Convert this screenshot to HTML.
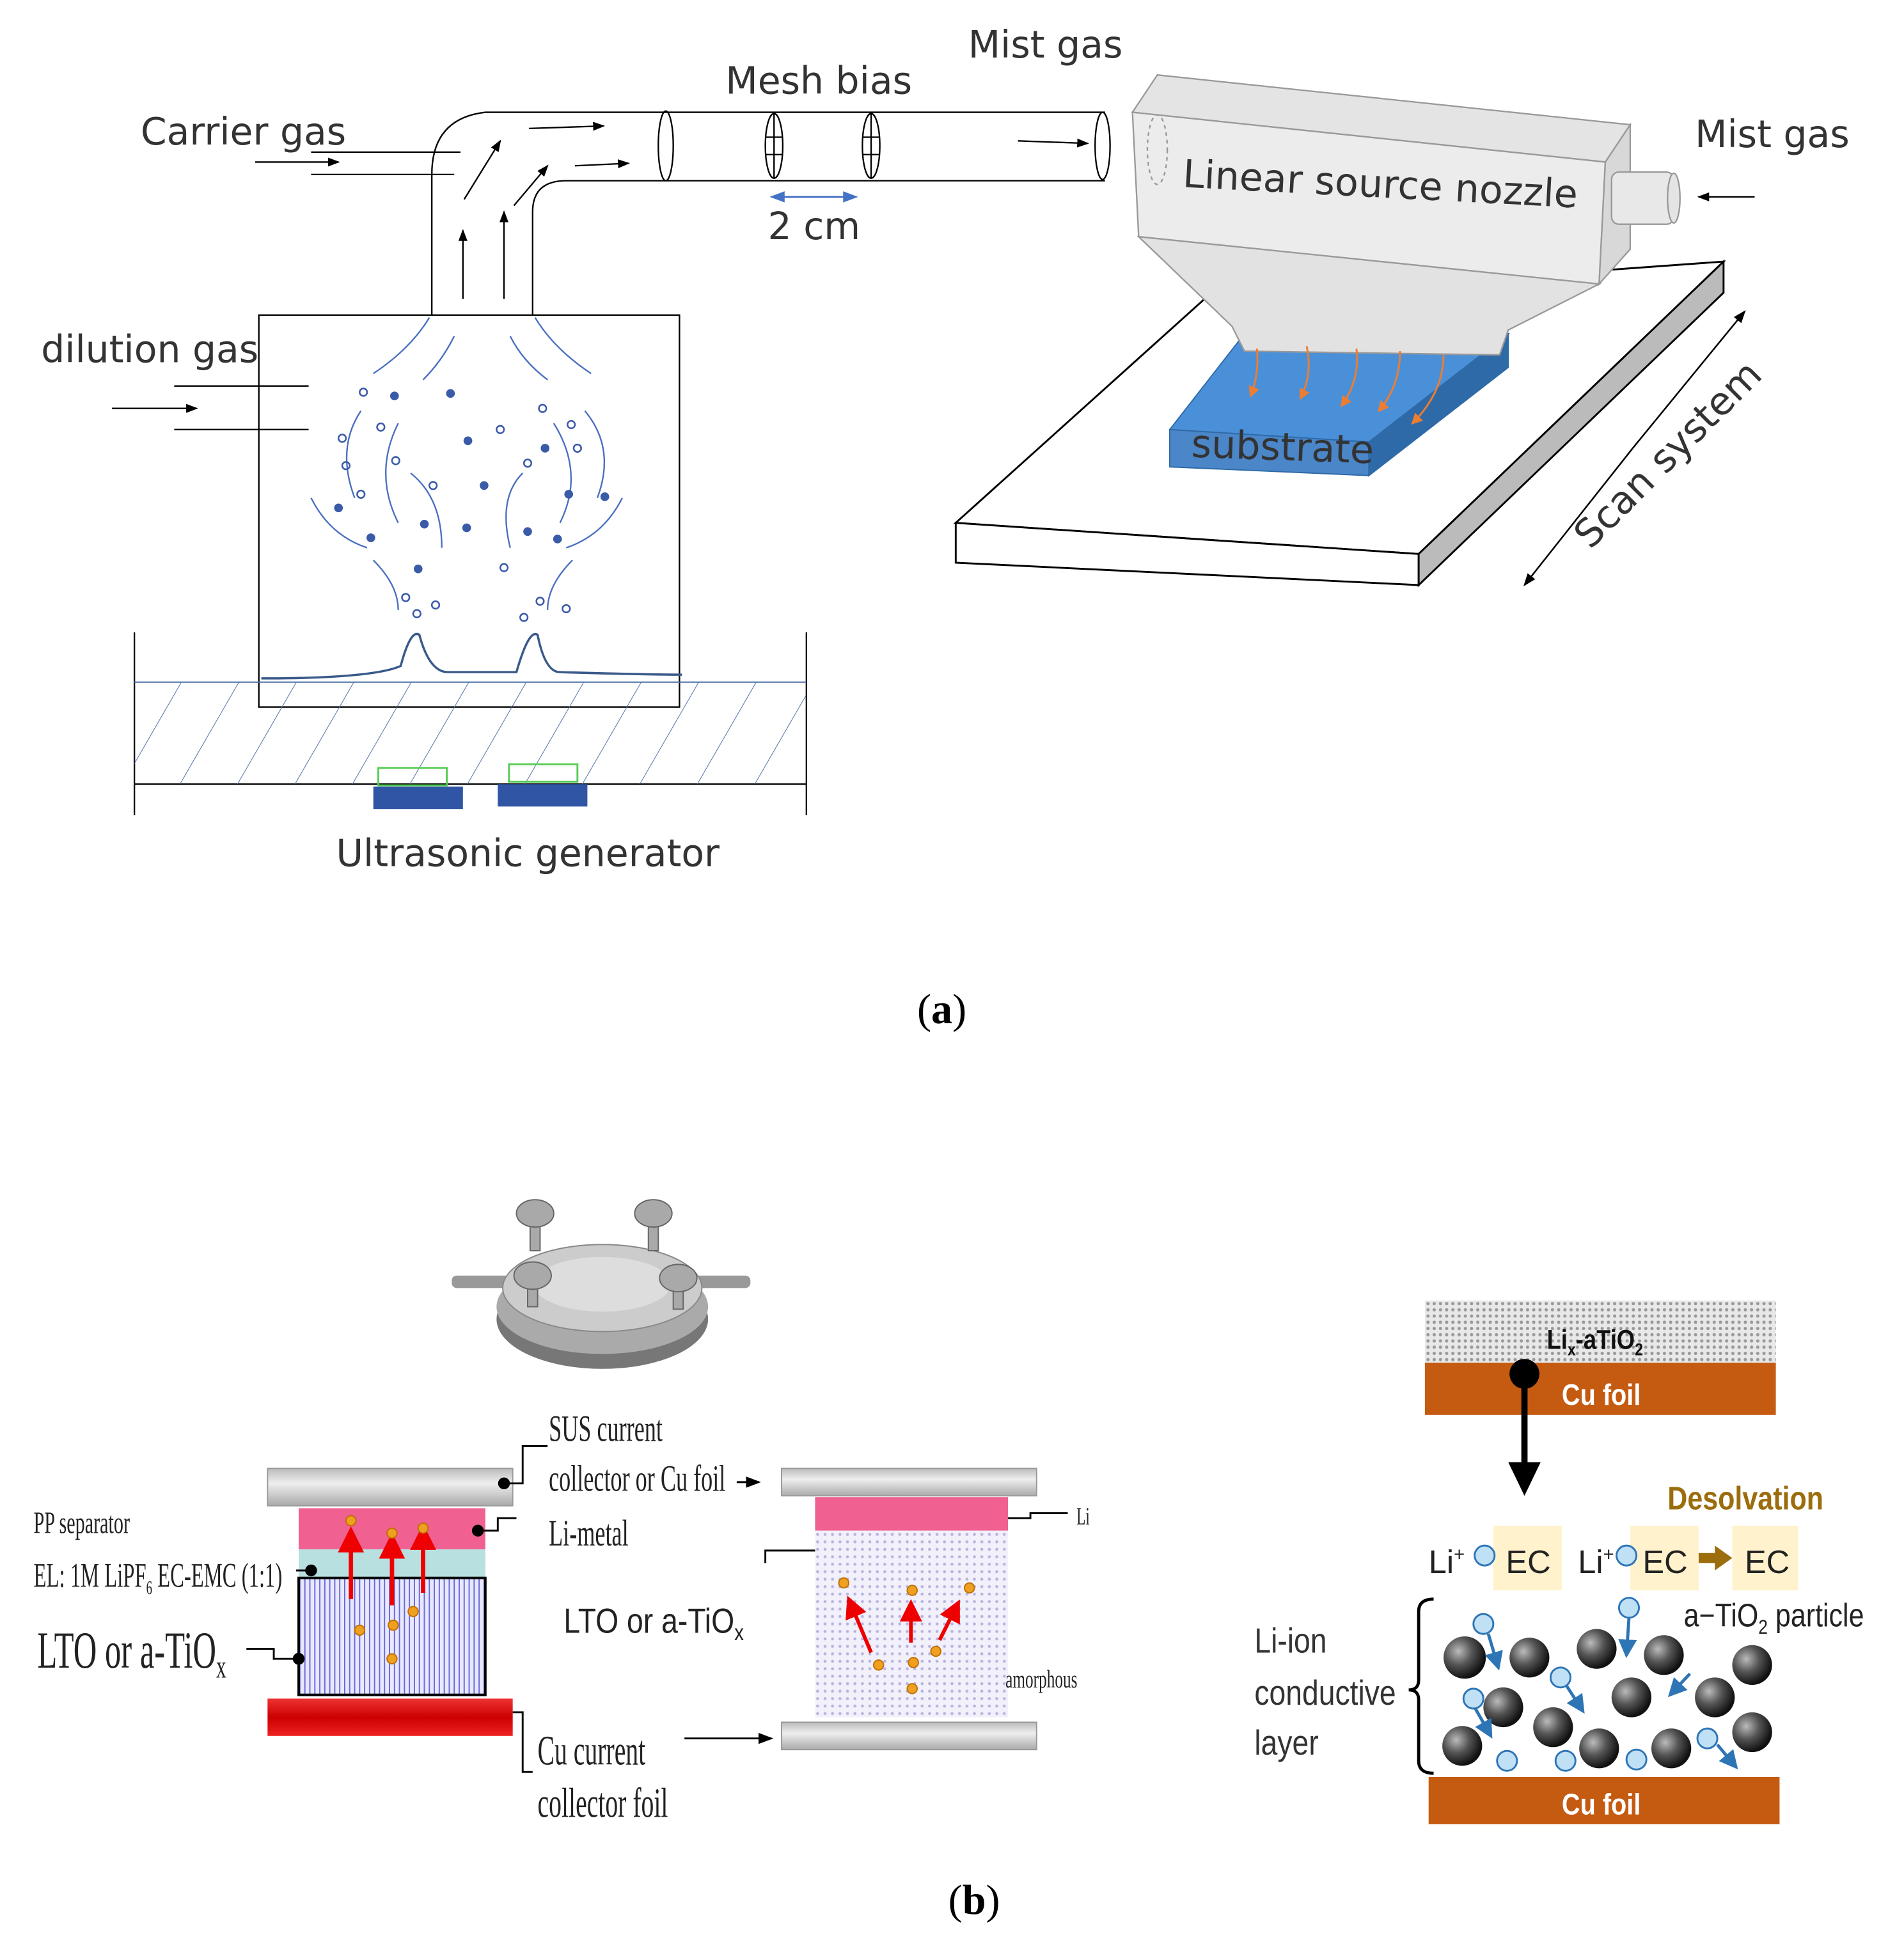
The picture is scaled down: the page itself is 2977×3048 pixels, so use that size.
<!DOCTYPE html>
<html><head><meta charset="utf-8"><style>
html,body{margin:0;padding:0;background:#fff;}
svg{display:block;}
</style></head><body>
<svg width="2977" height="3048" viewBox="0 0 1530 1566" xmlns="http://www.w3.org/2000/svg" font-family="DejaVu Sans, Liberation Sans, sans-serif">
<defs>
<marker id="ah" markerWidth="8" markerHeight="8" refX="7" refY="4" orient="auto"><path d="M0,1 L8,4 L0,7 z" fill="#000"/></marker>
<marker id="bh" markerWidth="8" markerHeight="8" refX="7" refY="4" orient="auto"><path d="M0,1 L8,4 L0,7 z" fill="#4472c4"/></marker>
<marker id="rh" markerWidth="6" markerHeight="6" refX="5" refY="3" orient="auto"><path d="M0,0 L6,3 L0,6 z" fill="#e00"/></marker>
<marker id="oh" markerWidth="6" markerHeight="6" refX="5" refY="3" orient="auto"><path d="M0,0 L6,3 L0,6 z" fill="#ed7d31"/></marker>
<marker id="lb" markerWidth="6" markerHeight="6" refX="5" refY="3" orient="auto"><path d="M0,0 L6,3 L0,6 z" fill="#2e75b6"/></marker>
<pattern id="hatch" width="40" height="40" patternUnits="userSpaceOnUse" patternTransform="rotate(30)"><line x1="0" y1="0" x2="0" y2="40" stroke="#4a6fa5" stroke-width="1"/></pattern>
<pattern id="vs" width="4" height="10" patternUnits="userSpaceOnUse"><rect width="4" height="10" fill="#e8e8ff"/><line x1="1" y1="0" x2="1" y2="10" stroke="#6b6bd8" stroke-width="1"/></pattern>
<pattern id="dots" width="6" height="6" patternUnits="userSpaceOnUse"><rect width="6" height="6" fill="#f2f0fb"/><circle cx="3" cy="3" r="1.2" fill="#b8b4e0"/></pattern>
<pattern id="gdots" width="5" height="5" patternUnits="userSpaceOnUse"><rect width="5" height="5" fill="#e8e8e8"/><circle cx="2.5" cy="2.5" r="1.3" fill="#999"/></pattern>
<radialGradient id="sph" cx="35%" cy="35%" r="65%"><stop offset="0" stop-color="#bbb"/><stop offset="0.5" stop-color="#555"/><stop offset="1" stop-color="#111"/></radialGradient>
<linearGradient id="gbar" x1="0" y1="0" x2="0" y2="1"><stop offset="0" stop-color="#bbb"/><stop offset="0.4" stop-color="#eee"/><stop offset="1" stop-color="#aaa"/></linearGradient>
<linearGradient id="rbar" x1="0" y1="0" x2="0" y2="1"><stop offset="0" stop-color="#e33"/><stop offset="0.5" stop-color="#c00"/><stop offset="1" stop-color="#e22"/></linearGradient>
</defs>

<!-- ===== (a) ===== -->
<g stroke="#000" fill="none" stroke-width="1.2">
<rect x="208" y="253" width="338" height="315"/>
<path d="M347,253 V140 Q347,95 390,90 H535"/>
<path d="M428,253 V170 Q428,145 455,145 H535"/>
<path d="M535,90 H888 M535,145 H888"/>
<path d="M250,122 H370 M250,140 H365"/>
<path d="M140,310 H248 M140,345 H248"/>
<path d="M108,508 V655 M648,508 V655 M108,630 H648"/>
</g>
<rect x="108" y="548" width="540" height="82" fill="url(#hatch)"/>
<line x1="108" y1="548" x2="648" y2="548" stroke="#4a6fa5"/>
<path d="M210,545 Q300,545 322,535 Q330,505 337,510 Q345,540 360,540 L415,540 Q425,505 432,510 Q438,540 450,540 Q520,542 548,542" stroke="#3a5a8a" stroke-width="1.8" fill="none"/>
<rect x="300" y="632" width="72" height="18" fill="#2f55a4"/>
<rect x="304" y="617" width="55" height="14" fill="none" stroke="#5c5" stroke-width="1.5"/>
<rect x="400" y="630" width="72" height="18" fill="#2f55a4"/>
<rect x="409" y="614" width="55" height="14" fill="none" stroke="#5c5" stroke-width="1.5"/>
<g stroke="#000" stroke-width="1.2" marker-end="url(#ah)">
<line x1="205" y1="130" x2="272" y2="130"/>
<line x1="90" y1="328" x2="158" y2="328"/>
<line x1="372" y1="240" x2="372" y2="185"/>
<line x1="405" y1="240" x2="405" y2="170"/>
<line x1="373" y1="160" x2="402" y2="113"/>
<line x1="413" y1="165" x2="440" y2="133"/>
<line x1="425" y1="103" x2="485" y2="101"/>
<line x1="462" y1="133" x2="505" y2="131"/>
<line x1="818" y1="113" x2="874" y2="115"/>
<line x1="1410" y1="158" x2="1365" y2="158"/>
</g>
<g stroke="#000" fill="none" stroke-width="1.2">
<ellipse cx="535" cy="117" rx="6" ry="28"/>
<ellipse cx="622" cy="117" rx="7" ry="26"/><line x1="622" y1="91" x2="622" y2="143"/><line x1="615" y1="110" x2="629" y2="110"/><line x1="615" y1="124" x2="629" y2="124"/>
<ellipse cx="700" cy="117" rx="7" ry="26"/><line x1="700" y1="91" x2="700" y2="143"/><line x1="693" y1="110" x2="707" y2="110"/><line x1="693" y1="124" x2="707" y2="124"/>
<ellipse cx="886" cy="117" rx="6" ry="27"/>
</g>
<line x1="620" y1="158" x2="688" y2="158" stroke="#4472c4" stroke-width="1.5" marker-end="url(#bh)"/>
<line x1="688" y1="158" x2="620" y2="158" stroke="#4472c4" stroke-width="1.5" marker-end="url(#bh)"/>
<g fill="none" stroke="#4a6fc0" stroke-width="1.2">
<path d="M345,255 Q330,280 300,300"/><path d="M430,255 Q445,280 475,300"/>
<path d="M365,270 Q355,290 340,305"/><path d="M410,270 Q420,290 440,305"/>
<path d="M290,330 Q270,360 285,400"/><path d="M470,330 Q495,360 480,400"/>
<path d="M320,340 Q300,380 320,420"/><path d="M445,340 Q470,380 450,420"/>
<path d="M250,400 Q265,430 295,440"/><path d="M500,400 Q485,430 455,440"/>
<path d="M330,380 Q355,400 355,440"/><path d="M420,380 Q400,400 410,440"/>
<path d="M300,450 Q320,470 320,490"/><path d="M460,450 Q440,470 440,490"/>
</g>
<g fill="#3a5ba8">
<circle cx="317" cy="318" r="3.5"/><circle cx="362" cy="316" r="3.5"/><circle cx="376" cy="354" r="3.5"/><circle cx="272" cy="408" r="3.5"/><circle cx="298" cy="432" r="3.5"/><circle cx="341" cy="421" r="3.5"/><circle cx="375" cy="424" r="3.5"/><circle cx="336" cy="457" r="3.5"/><circle cx="389" cy="390" r="3.5"/><circle cx="448" cy="433" r="3.5"/><circle cx="486" cy="399" r="3.5"/><circle cx="457" cy="397" r="3.5"/><circle cx="438" cy="360" r="3.5"/><circle cx="424" cy="427" r="3.5"/>
</g>
<g fill="none" stroke="#3a5ba8" stroke-width="1.3">
<circle cx="292" cy="315" r="3"/><circle cx="275" cy="352" r="3"/><circle cx="306" cy="343" r="3"/><circle cx="278" cy="374" r="3"/><circle cx="318" cy="370" r="3"/><circle cx="290" cy="397" r="3"/><circle cx="348" cy="390" r="3"/><circle cx="402" cy="345" r="3"/><circle cx="436" cy="328" r="3"/><circle cx="459" cy="341" r="3"/><circle cx="464" cy="360" r="3"/><circle cx="424" cy="372" r="3"/><circle cx="405" cy="456" r="3"/><circle cx="326" cy="480" r="3"/><circle cx="335" cy="493" r="3"/><circle cx="350" cy="486" r="3"/><circle cx="421" cy="496" r="3"/><circle cx="434" cy="483" r="3"/><circle cx="455" cy="489" r="3"/>
</g>
<g stroke="#000" stroke-width="1.5">
<polygon points="768,420 968,240 1385,210 1140,445" fill="#fff"/>
<polygon points="768,420 1140,445 1140,470 768,452" fill="#fff"/>
<polygon points="1140,445 1385,210 1385,235 1140,470" fill="#bbb"/>
</g>
<polygon points="940,345 1000,268 1212,268 1100,355" fill="#4a90d9" stroke="#2e6aa8"/>
<polygon points="940,345 1100,355 1100,382 940,375" fill="#4a86c8" stroke="#2e6aa8"/>
<polygon points="1100,355 1212,268 1212,295 1100,382" fill="#2e6aa8" stroke="#2e6aa8"/>
<g stroke="#999" stroke-width="1.2" fill="#e4e4e4">
<polygon points="930,60 1310,100 1290,130 910,90"/>
<polygon points="910,90 1290,130 1285,228 915,190" fill="#ececec"/>
<polygon points="1290,130 1310,100 1310,200 1285,228" fill="#d8d8d8"/>
<polygon points="915,190 1285,228 1212,265 1205,285 1000,282 990,262" fill="#e2e2e2"/>
<rect x="1295" y="138" width="50" height="42" rx="6" fill="#e8e8e8"/>
<ellipse cx="1345" cy="159" rx="5" ry="20"/>
<ellipse cx="930" cy="120" rx="8" ry="28" fill="none" stroke-dasharray="3,3"/>
</g>
<g stroke="#ed7d31" stroke-width="1.5" fill="none" marker-end="url(#oh)">
<path d="M1010,280 Q1012,300 1005,318"/><path d="M1050,278 Q1055,300 1045,320"/><path d="M1090,280 Q1093,305 1078,326"/><path d="M1125,282 Q1125,310 1108,330"/><path d="M1160,285 Q1160,315 1135,340"/>
</g>
<g stroke="#000" stroke-width="1.3" marker-end="url(#ah)"><line x1="1312" y1="360" x2="1402" y2="250"/><line x1="1312" y1="360" x2="1225" y2="470"/></g>
<g font-size="30" fill="#333">
<text x="113" y="116">Carrier gas</text>
<text x="33" y="291">dilution gas</text>
<text x="583" y="75">Mesh bias</text>
<text x="778" y="46">Mist gas</text>
<text x="1362" y="118">Mist gas</text>
<text x="617" y="192">2 cm</text>
<text x="270" y="696">Ultrasonic generator</text>
<text x="950" y="150" transform="rotate(3 950 150)" font-size="31">Linear source nozzle</text>
<text x="957" y="367" transform="rotate(2 957 367)" font-size="31">substrate</text>
<text x="1278" y="442" transform="rotate(-45 1278 442)" font-size="31">Scan system</text>
</g>
<text x="737" y="822" font-family="Liberation Serif, serif" font-size="34">(<tspan font-weight="bold">a</tspan>)</text>

<!-- ===== (b) ===== -->
<g>
<rect x="363" y="1025" width="240" height="10" rx="4" fill="#999"/>
<ellipse cx="484" cy="1060" rx="85" ry="40" fill="#777"/>
<ellipse cx="484" cy="1050" rx="85" ry="38" fill="#aaa"/>
<ellipse cx="484" cy="1035" rx="80" ry="35" fill="#ccc" stroke="#888"/>
<ellipse cx="484" cy="1032" rx="55" ry="22" fill="#ddd"/>
<g fill="#a9a9a9" stroke="#666">
<rect x="426" y="975" width="8" height="30"/><rect x="521" y="975" width="8" height="30"/><rect x="424" y="1025" width="8" height="25"/><rect x="541" y="1027" width="8" height="25"/>
<ellipse cx="430" cy="975" rx="15" ry="11"/><ellipse cx="525" cy="975" rx="15" ry="11"/><ellipse cx="428" cy="1025" rx="15" ry="11"/><ellipse cx="545" cy="1027" rx="15" ry="11"/></g>
</g>
<rect x="215" y="1180" width="197" height="30" fill="url(#gbar)" stroke="#999"/>
<rect x="240" y="1212" width="150" height="33" fill="#f06090"/>
<rect x="240" y="1245" width="150" height="23" fill="#b8e0e0"/>
<rect x="240" y="1268" width="150" height="94" fill="url(#vs)" stroke="#000" stroke-width="2"/>
<rect x="215" y="1365" width="197" height="30" fill="url(#rbar)"/>
<g stroke="#e00" stroke-width="3.5" marker-end="url(#rh)"><line x1="282" y1="1285" x2="282" y2="1230"/><line x1="315" y1="1290" x2="315" y2="1235"/><line x1="340" y1="1280" x2="340" y2="1228"/></g>
<g fill="#f0a020" stroke="#c07000"><circle cx="282" cy="1222" r="4"/><circle cx="315" cy="1232" r="4"/><circle cx="340" cy="1228" r="4"/><circle cx="289" cy="1310" r="4"/><circle cx="316" cy="1306" r="4"/><circle cx="332" cy="1295" r="4"/><circle cx="315" cy="1333" r="4"/></g>
<g stroke="#000" stroke-width="1.5" fill="none">
<path d="M405,1192 H420 V1162 H440"/><circle cx="405" cy="1192" r="4" fill="#000"/>
<path d="M384,1230 H400 V1220 H415"/><circle cx="384" cy="1230" r="4" fill="#000"/>
<path d="M248,1262 H238"/><circle cx="250" cy="1262" r="4" fill="#000"/>
<path d="M240,1333 H220 V1325 H198"/><circle cx="240" cy="1333" r="4" fill="#000"/>
<path d="M412,1376 H420 V1424 H428"/>
<path d="M800,1220 H828 V1216 H858"/><circle cx="800" cy="1220" r="4" fill="#000"/>
<path d="M662,1246 H615 V1256"/><circle cx="662" cy="1246" r="3.5" fill="#000"/>
<path d="M592,1191 H610" marker-end="url(#ah)"/>
<path d="M550,1397 H620" marker-end="url(#ah)"/>
</g>
<rect x="628" y="1180" width="205" height="22" fill="url(#gbar)" stroke="#999"/>
<rect x="655" y="1203" width="155" height="27" fill="#f06090"/>
<rect x="655" y="1230" width="155" height="150" fill="url(#dots)"/>
<rect x="628" y="1384" width="205" height="22" fill="url(#gbar)" stroke="#999"/>
<g stroke="#e00" stroke-width="3" marker-end="url(#rh)"><line x1="700" y1="1328" x2="682" y2="1285"/><line x1="732" y1="1320" x2="732" y2="1288"/><line x1="755" y1="1318" x2="770" y2="1288"/></g>
<g fill="#f0a020" stroke="#c07000"><circle cx="678" cy="1272" r="4"/><circle cx="733" cy="1278" r="4"/><circle cx="779" cy="1276" r="4"/><circle cx="706" cy="1338" r="4"/><circle cx="734" cy="1336" r="4"/><circle cx="752" cy="1327" r="4"/><circle cx="733" cy="1357" r="4"/></g>
<g font-family="Liberation Serif, serif" fill="#222">
<text x="441" y="1158" font-size="30" transform="translate(441 0) scale(0.62 1) translate(-441 0)">SUS current</text>
<text x="441" y="1198" font-size="30" transform="translate(441 0) scale(0.62 1) translate(-441 0)">collector or Cu foil</text>
<text x="441" y="1242" font-size="30" transform="translate(441 0) scale(0.62 1) translate(-441 0)">Li-metal</text>
<text x="27" y="1232" font-size="25" transform="translate(27 0) scale(0.62 1) translate(-27 0)">PP separator</text>
<text x="27" y="1275" font-size="28" transform="translate(27 0) scale(0.6 1) translate(-27 0)">EL: 1M LiPF<tspan font-size="16" dy="6">6</tspan><tspan dy="-6"> EC-EMC (1:1)</tspan></text>
<text x="30" y="1340" font-size="42" transform="translate(30 0) scale(0.62 1) translate(-30 0)">LTO or a-TiO<tspan font-size="26" dy="8">x</tspan></text>
<text x="432" y="1418" font-size="34" transform="translate(432 0) scale(0.6 1) translate(-432 0)">Cu current</text>
<text x="432" y="1460" font-size="34" transform="translate(432 0) scale(0.6 1) translate(-432 0)">collector foil</text>
<text x="865" y="1225" font-size="20" transform="translate(865 0) scale(0.6 1) translate(-865 0)">Li</text>
<text x="808" y="1356" font-size="20" transform="translate(808 0) scale(0.65 1) translate(-808 0)">amorphous</text>
</g>
<text x="453" y="1312" font-size="28" fill="#222" font-family="Liberation Sans, sans-serif" transform="translate(453 0) scale(0.85 1) translate(-453 0)">LTO or a-TiO<tspan font-size="18" dy="6">x</tspan></text>

<rect x="1145" y="1045" width="282" height="50" fill="url(#gdots)"/>
<rect x="1145" y="1095" width="282" height="42" fill="#c55a11"/>
<text x="1243" y="1084" font-size="22" font-weight="bold" fill="#111" font-family="Liberation Sans, sans-serif" transform="translate(1243 0) scale(0.85 1) translate(-1243 0)">Li<tspan font-size="14" dy="5">x</tspan><tspan dy="-5">-aTiO</tspan><tspan font-size="14" dy="5">2</tspan></text>
<text x="1255" y="1129" font-size="24" font-weight="bold" fill="#fff" font-family="Liberation Sans, sans-serif" transform="translate(1255 0) scale(0.85 1) translate(-1255 0)">Cu foil</text>
<circle cx="1225" cy="1104" r="12" fill="#000"/>
<line x1="1225" y1="1110" x2="1225" y2="1178" stroke="#000" stroke-width="5"/>
<polygon points="1212,1175 1238,1175 1225,1202" fill="#000"/>
<text x="1340" y="1213" font-size="26" font-weight="bold" fill="#9c6d0d" font-family="Liberation Sans, sans-serif" transform="translate(1340 0) scale(0.85 1) translate(-1340 0)">Desolvation</text>
<g fill="#fff2cc"><rect x="1200" y="1226" width="55" height="52"/><rect x="1310" y="1226" width="55" height="52"/><rect x="1392" y="1226" width="53" height="52"/></g>
<g font-family="Liberation Sans, sans-serif" font-size="26" fill="#222">
<text x="1210" y="1264">EC</text><text x="1320" y="1264">EC</text><text x="1402" y="1264">EC</text>
<text x="1148" y="1264">Li<tspan font-size="15" dy="-10">+</tspan></text>
<text x="1268" y="1264">Li<tspan font-size="15" dy="-10">+</tspan></text>
</g>
<polygon points="1365,1248 1378,1248 1378,1242 1392,1252 1378,1262 1378,1256 1365,1256" fill="#9c6d0d"/>
<g fill="#bfe0f5" stroke="#2e75b6" stroke-width="1.5"><circle cx="1193" cy="1250" r="8"/><circle cx="1307" cy="1250" r="8"/></g>
<path d="M1152,1285 Q1140,1285 1140,1295 V1350 Q1140,1358 1132,1358 Q1140,1358 1140,1366 V1415 Q1140,1425 1152,1425" fill="none" stroke="#000" stroke-width="2.5"/>
<g font-family="Liberation Sans, sans-serif" font-size="28" fill="#333" transform="translate(1008 0) scale(0.85 1) translate(-1008 0)">
<text x="1008" y="1328">Li-ion</text><text x="1008" y="1370">conductive</text><text x="1008" y="1410">layer</text>
</g>
<text x="1353" y="1307" font-family="Liberation Sans, sans-serif" font-size="26" fill="#222" transform="translate(1353 0) scale(0.85 1) translate(-1353 0)">a−TiO<tspan font-size="16" dy="6">2</tspan><tspan dy="-6"> particle</tspan></text>
<g fill="url(#sph)">
<circle cx="1177" cy="1332" r="17"/><circle cx="1229" cy="1332" r="16"/><circle cx="1283" cy="1325" r="16"/><circle cx="1337" cy="1330" r="16"/><circle cx="1408" cy="1338" r="16"/>
<circle cx="1208" cy="1372" r="16"/><circle cx="1311" cy="1364" r="16"/><circle cx="1378" cy="1364" r="16"/><circle cx="1248" cy="1388" r="16"/>
<circle cx="1175" cy="1403" r="16"/><circle cx="1285" cy="1405" r="16"/><circle cx="1343" cy="1405" r="16"/><circle cx="1408" cy="1392" r="16"/>
</g>
<g stroke="#2e75b6" stroke-width="2.5" marker-end="url(#lb)"><line x1="1196" y1="1313" x2="1204" y2="1340"/><line x1="1309" y1="1300" x2="1307" y2="1330"/><line x1="1185" y1="1372" x2="1198" y2="1395"/><line x1="1259" y1="1355" x2="1272" y2="1375"/><line x1="1358" y1="1345" x2="1342" y2="1362"/><line x1="1380" y1="1402" x2="1395" y2="1420"/></g>
<g fill="#bfe0f5" stroke="#2e75b6" stroke-width="1.5"><circle cx="1192" cy="1305" r="8"/><circle cx="1309" cy="1292" r="8"/><circle cx="1184" cy="1365" r="8"/><circle cx="1254" cy="1348" r="8"/><circle cx="1211" cy="1415" r="8"/><circle cx="1258" cy="1415" r="8"/><circle cx="1315" cy="1414" r="8"/><circle cx="1372" cy="1397" r="8"/></g>
<rect x="1148" y="1428" width="282" height="38" fill="#c55a11"/>
<text x="1255" y="1458" font-size="24" font-weight="bold" fill="#fff" font-family="Liberation Sans, sans-serif" transform="translate(1255 0) scale(0.85 1) translate(-1255 0)">Cu foil</text>

<text x="762" y="1538" font-family="Liberation Serif, serif" font-size="34">(<tspan font-weight="bold">b</tspan>)</text>
</svg>
</body></html>
